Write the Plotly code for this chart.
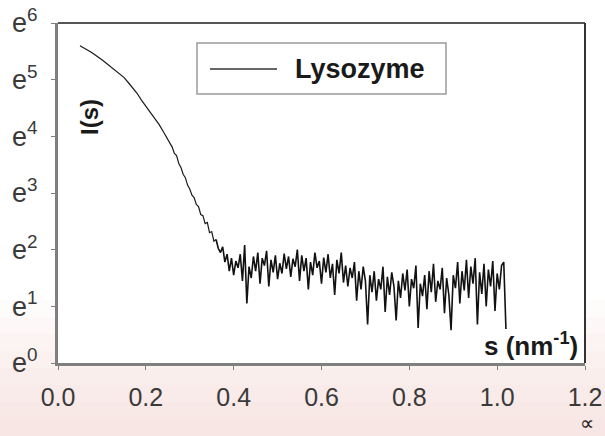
import plotly.graph_objects as go

# ---- data: s in nm^-1, ln I(s) ----
s_curve = [0.05, 0.06, 0.07, 0.08, 0.09, 0.10, 0.11, 0.12, 0.13, 0.14,
           0.15, 0.16, 0.17, 0.18, 0.19, 0.20, 0.21, 0.22, 0.23, 0.24,
           0.250, 0.255, 0.260, 0.265, 0.270, 0.275, 0.280, 0.285, 0.290, 0.295,
           0.300, 0.305, 0.310, 0.315, 0.320, 0.325, 0.330, 0.335, 0.340, 0.345,
           0.350, 0.355, 0.360]
ln_curve = [5.60, 5.56, 5.51, 5.46, 5.41, 5.35, 5.29, 5.23, 5.17, 5.10,
            5.04, 4.95, 4.86, 4.76, 4.64, 4.53, 4.43, 4.33, 4.21, 4.08,
            3.95, 3.88, 3.81, 3.70, 3.66, 3.52, 3.45, 3.33, 3.27, 3.14,
            3.07, 2.96, 2.92, 2.80, 2.76, 2.62, 2.60, 2.46, 2.48, 2.30,
            2.32, 2.15, 2.18]

s_noise = [0.360, 0.365, 0.370, 0.375, 0.380, 0.385, 0.390, 0.395, 0.400, 0.405, 0.410,
           0.415, 0.420, 0.425, 0.430, 0.435, 0.440, 0.445, 0.450, 0.455, 0.460,
           0.465, 0.470, 0.475, 0.480, 0.485, 0.490, 0.495, 0.500, 0.505, 0.510,
           0.515, 0.520, 0.525, 0.530, 0.535, 0.540, 0.545, 0.550, 0.555, 0.560,
           0.565, 0.570, 0.575, 0.580, 0.585, 0.590, 0.595, 0.600, 0.605, 0.610,
           0.615, 0.620, 0.625, 0.630, 0.635, 0.640, 0.645, 0.650, 0.655, 0.660,
           0.665, 0.670, 0.675, 0.680, 0.685, 0.690, 0.695, 0.700, 0.705, 0.710,
           0.715, 0.720, 0.725, 0.730, 0.735, 0.740, 0.745, 0.750, 0.755, 0.760,
           0.765, 0.770, 0.775, 0.780, 0.785, 0.790, 0.795, 0.800, 0.805, 0.810,
           0.815, 0.820, 0.825, 0.830, 0.835, 0.840, 0.845, 0.850, 0.855, 0.860,
           0.865, 0.870, 0.875, 0.880, 0.885, 0.890, 0.895, 0.900, 0.905, 0.910,
           0.915, 0.920, 0.925, 0.930, 0.935, 0.940, 0.945, 0.950, 0.955, 0.960,
           0.965, 0.970, 0.975, 0.980, 0.985, 0.990, 0.995, 1.000, 1.005, 1.010,
           1.015, 1.020]
ln_noise = [2.18, 2.02, 1.95, 2.05, 1.78, 1.92, 1.62, 1.85, 1.55, 1.80, 1.68,
            1.92, 1.45, 2.08, 1.05, 1.70, 1.50, 1.88, 1.62, 1.95, 1.40,
            1.85, 1.72, 1.98, 1.35, 1.82, 1.60, 1.90, 1.48, 1.76, 1.58,
            1.93, 1.66, 1.88, 1.52, 1.84, 1.70, 2.00, 1.45, 1.90, 1.62,
            1.85, 1.30, 1.78, 1.55, 1.95, 1.68, 1.80, 1.40, 1.86, 1.60,
            1.92, 1.50, 1.75, 1.20, 1.82, 1.58, 1.95, 1.42, 1.72, 1.35,
            1.68, 1.50, 1.78, 1.10, 1.62, 1.30, 1.70, 1.45, 0.68, 1.55,
            1.25, 1.62, 1.10, 1.48, 1.30, 1.70, 0.90, 1.52, 1.20, 1.60,
            1.35, 0.75, 1.45, 1.15, 1.58, 1.28, 1.65, 1.00, 1.48, 1.32,
            1.72, 0.62, 1.40, 1.18, 1.55, 0.95, 1.62, 1.25, 1.75, 1.08,
            1.45, 1.30, 1.68, 0.88, 1.50, 1.20, 0.58, 1.55, 1.32, 1.78,
            1.05, 1.62, 1.28, 1.82, 1.15, 1.70, 1.40, 1.85, 0.68, 1.60,
            1.22, 1.75, 1.00, 1.65, 1.35, 1.80, 0.92, 1.58, 1.30, 1.72,
            1.78, 0.60]

x_ticks = [0.0, 0.2, 0.4, 0.6, 0.8, 1.0, 1.2]
x_tick_text = ["0.0", "0.2", "0.4", "0.6", "0.8", "1.0", "1.2"]
y_ticks = [0, 1, 2, 3, 4, 5, 6]
y_tick_text = ["e<sup>%d</sup>" % k for k in y_ticks]
series_name = "Lysozyme"

fig = go.Figure()
fig.add_trace(go.Scatter(x=s_curve, y=ln_curve, mode="lines", name=series_name,
                         line=dict(color="#1a1a1a", width=1.2), showlegend=False))
fig.add_trace(go.Scatter(x=s_noise, y=ln_noise, mode="lines", name=series_name,
                         line=dict(color="#111111", width=1.6), showlegend=False))

# geometry helpers (pixel -> paper)
L, R, T, B = 58, 585, 23, 363
def px(x):
    return (x - L) / (R - L)
def py(y):
    return (B - y) / (B - T)

shapes = []
# pink gradient background at the bottom of the page
pinks = ["#fefbfb", "#fdf8f7", "#fcf4f3", "#fbf1ef", "#faeeec", "#f9ebe9", "#f8e8e6", "#f7e6e3"]
y0 = 300
step = (436 - y0) / len(pinks)
for i, c in enumerate(pinks):
    shapes.append(dict(type="rect", xref="paper", yref="paper", layer="below",
                       x0=px(0), x1=px(605), y0=py(y0 + i * step + step + 1), y1=py(y0 + i * step),
                       fillcolor=c, line=dict(width=0)))
# white plot area
shapes.append(dict(type="rect", xref="paper", yref="paper", layer="below",
                   x0=0, x1=1, y0=0, y1=1, fillcolor="white", line=dict(width=0)))
# top and right frame lines
shapes.append(dict(type="line", xref="paper", yref="paper", x0=0, x1=1, y0=1, y1=1,
                   line=dict(color="#555555", width=2)))
shapes.append(dict(type="line", xref="paper", yref="paper", x0=1, x1=1, y0=0, y1=1,
                   line=dict(color="#333333", width=2)))
# legend box and sample line
shapes.append(dict(type="rect", xref="paper", yref="paper",
                   x0=px(197), x1=px(446), y0=py(94), y1=py(43),
                   line=dict(color="#9a9a9a", width=1.5), fillcolor="white"))
shapes.append(dict(type="line", xref="paper", yref="paper",
                   x0=px(210), x1=px(277), y0=py(69), y1=py(69),
                   line=dict(color="#333333", width=1.3)))

annotations = [
    dict(text="<b>" + series_name + "</b>", xref="paper", yref="paper", x=px(293), y=py(69),
         xanchor="left", yanchor="middle", showarrow=False,
         font=dict(family="Liberation Sans, Arial", size=27, color="#1a1a1a")),
    dict(text="<b>I(s)</b>", xref="paper", yref="paper", x=px(89), y=py(117),
         textangle=-90, xanchor="center", yanchor="middle", showarrow=False,
         font=dict(family="Liberation Sans, Arial", size=24, color="#1a1a1a")),
    dict(text="<b>s (nm<sup>-1</sup>)</b>", xref="paper", yref="paper", x=px(580), y=py(344),
         xanchor="right", yanchor="middle", showarrow=False,
         font=dict(family="Liberation Sans, Arial", size=26, color="#1a1a1a")),
    dict(text="∝", xref="paper", yref="paper", x=px(578), y=py(423),
         xanchor="left", yanchor="middle", showarrow=False,
         font=dict(family="DejaVu Sans", size=20, color="#222222")),
]

fig.update_layout(
    width=605, height=436,
    margin=dict(l=L, r=605 - R, t=T, b=436 - B, autoexpand=False),
    paper_bgcolor="white", plot_bgcolor="rgba(0,0,0,0)",
    shapes=shapes, annotations=annotations,
    font=dict(family="Liberation Sans, Arial", color="#333333"),
    xaxis=dict(range=[0, 1.2], tickvals=x_ticks, ticktext=x_tick_text, automargin=False,
               showgrid=False, zeroline=False, showline=True, linecolor="#7f7f7f", linewidth=3,
               ticks="outside", ticklen=4, tickcolor="#7f7f7f", tickwidth=1,
               tickfont=dict(size=25, color="#3a3a3a"), ticklabelstandoff=6),
    yaxis=dict(range=[0, 6], tickvals=y_ticks, ticktext=y_tick_text, automargin=False,
               showgrid=False, zeroline=False, showline=True, linecolor="#7f7f7f", linewidth=3,
               ticks="outside", ticklen=4, tickcolor="#7f7f7f", tickwidth=1,
               tickfont=dict(size=27, color="#3a3a3a"), ticklabelstandoff=8),
)

fig.write_html("out.html")
